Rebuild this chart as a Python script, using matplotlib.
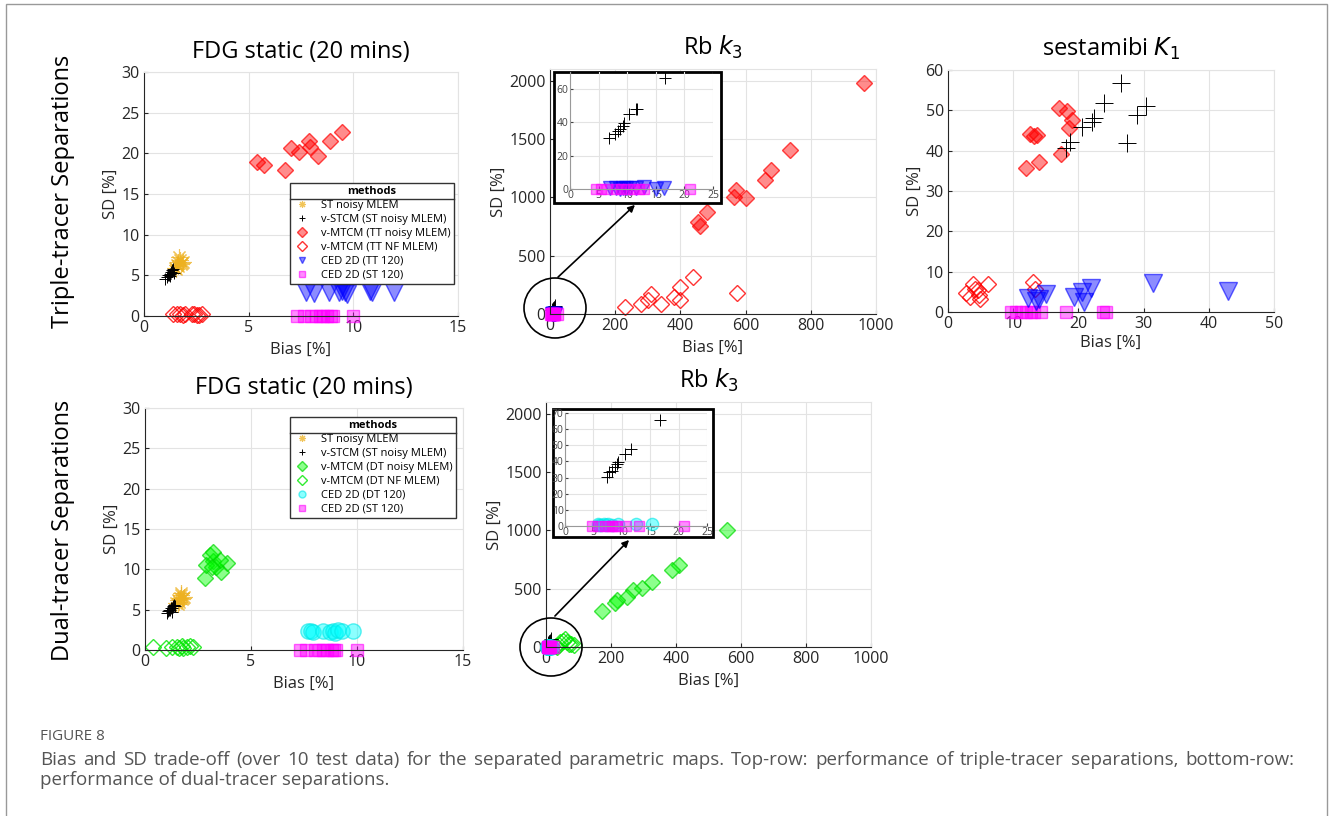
import numpy as np
import matplotlib
matplotlib.use('Agg')
import matplotlib.pyplot as plt
from matplotlib.lines import Line2D
from matplotlib.patches import Rectangle, Ellipse, FancyArrowPatch

plt.rcParams['font.family'] = ['Open Sans', 'DejaVu Sans']

# ---- FDG static, triple-tracer ----
fdg_tt_st_x = [1.48, 1.58, 1.64, 1.72, 1.80, 1.62, 1.55, 1.85, 1.68, 1.76]
fdg_tt_st_y = [5.9, 6.3, 6.6, 6.9, 6.5, 6.1, 5.8, 6.7, 7.2, 6.4]
fdg_tt_vstcm_x = [1.00, 1.10, 1.18, 1.25, 1.30, 1.35, 1.40, 1.22, 1.15, 1.45]
fdg_tt_vstcm_y = [4.5, 4.8, 5.0, 5.2, 5.4, 5.6, 5.8, 4.9, 5.1, 5.3]
fdg_tt_noisy_x = [5.40, 5.75, 6.75, 7.00, 7.40, 7.90, 7.95, 8.30, 8.90, 9.45]
fdg_tt_noisy_y = [18.9, 18.6, 17.9, 20.6, 20.2, 21.5, 20.8, 19.7, 21.5, 22.6]
fdg_tt_nf_x = [1.40, 1.72, 1.88, 2.40, 2.55, 2.75, 1.95, 2.65, 1.60, 2.30]
fdg_tt_nf_y = [0.2, 0.3, 0.1, 0.2, 0.15, 0.25, 0.3, 0.1, 0.2, 0.3]
fdg_tt_ced_x = [7.75, 8.10, 8.85, 9.30, 9.45, 9.60, 9.70, 10.80, 10.90, 11.95]
fdg_tt_ced_y = [3.0, 2.8, 2.9, 3.0, 3.1, 2.9, 2.7, 3.1, 3.0, 2.9]
fdg_tt_cedst_x = [7.30, 7.65, 8.00, 8.20, 8.40, 8.55, 8.75, 8.95, 9.05, 10.00]
fdg_tt_cedst_y = [0, 0, 0, 0, 0, 0, 0, 0, 0, 0]

# ---- Rb k3, triple-tracer ----
rb_tt_vstcm_x = [6.9, 7.9, 8.4, 8.7, 9.2, 9.4, 10.3, 11.5, 11.8, 16.6]
rb_tt_vstcm_y = [30.6, 33.2, 34.6, 36.0, 37.6, 39.6, 44.6, 47.6, 48.0, 66.2]
rb_tt_noisy_x = [963, 737, 677, 660, 600, 570, 565, 482, 455, 460]
rb_tt_noisy_y = [1977, 1402, 1231, 1145, 990, 1060, 1000, 870, 790, 750]
rb_tt_nf_x = [230, 280, 300, 310, 340, 380, 400, 400, 440, 575]
rb_tt_nf_y = [60, 90, 120, 170, 90, 150, 230, 120, 320, 180]
rb_tt_ced_x = [7.0, 8.0, 8.7, 9.3, 9.8, 10.5, 11.5, 13.0, 15.0, 16.5]
rb_tt_ced_y = [0.5, 0.3, 0.2, 0.4, 0.3, 0.5, 0.4, 1.0, 0.2, 0.3]
rb_tt_cedst_x = [4.5, 5.5, 6.5, 8.0, 9.0, 10.0, 11.0, 12.0, 13.0, 21.0]
rb_tt_cedst_y = [0, 0, 0, 0, 0, 0, 0, 0, 0, 0]

# ---- sestamibi K1, triple-tracer ----
mibi_vstcm_x = [26.6, 24.0, 22.4, 22.1, 20.6, 18.7, 18.1, 27.5, 30.3, 29.0]
mibi_vstcm_y = [56.9, 51.9, 48.0, 47.2, 45.9, 42.2, 40.6, 42.0, 51.1, 48.9]
mibi_noisy_x = [17.0, 18.3, 19.0, 18.5, 12.6, 13.2, 13.6, 11.9, 14.0, 17.3]
mibi_noisy_y = [50.7, 49.8, 47.5, 45.5, 44.2, 43.6, 44.0, 35.6, 37.3, 39.2]
mibi_nf_x = [2.8, 3.3, 3.8, 4.1, 4.6, 4.8, 4.9, 6.1, 13.0, 13.4]
mibi_nf_y = [4.6, 3.7, 7.0, 5.8, 5.4, 4.1, 3.3, 7.0, 7.5, 5.8]
mibi_ced_x = [12.3, 13.5, 14.0, 15.0, 19.3, 20.5, 20.8, 22.0, 31.4, 43.0]
mibi_ced_y = [3.5, 2.8, 3.3, 4.5, 3.8, 5.0, 2.5, 6.0, 7.2, 5.3]
mibi_cedst_x = [9.7, 10.5, 11.2, 12.0, 12.8, 13.2, 14.3, 18.1, 23.7, 24.3]
mibi_cedst_y = [0, 0, 0, 0, 0, 0, 0, 0, 0, 0]

# ---- FDG static, dual-tracer ----
fdg_dt_st_x = [1.48, 1.58, 1.64, 1.72, 1.80, 1.62, 1.55, 1.85, 1.68, 1.76]
fdg_dt_st_y = [5.8, 6.2, 6.5, 6.8, 6.4, 6.0, 5.7, 6.6, 7.1, 6.3]
fdg_dt_vstcm_x = [1.02, 1.10, 1.18, 1.26, 1.30, 1.35, 1.15, 1.22, 1.40, 1.28]
fdg_dt_vstcm_y = [4.55, 4.8, 5.0, 5.17, 5.4, 5.6, 4.9, 5.2, 5.5, 4.7]
fdg_dt_noisy_x = [2.83, 3.06, 3.20, 3.35, 3.85, 3.60, 2.90, 3.53, 3.20, 3.14]
fdg_dt_noisy_y = [8.9, 11.8, 11.0, 10.3, 10.8, 9.7, 10.5, 11.2, 12.2, 10.3]
fdg_dt_nf_x = [0.39, 0.99, 1.26, 1.49, 1.73, 1.80, 1.96, 2.10, 2.28, 1.60]
fdg_dt_nf_y = [0.4, 0.3, 0.4, 0.4, 0.5, 0.3, 0.4, 0.5, 0.4, 0.2]
fdg_dt_ced_x = [7.70, 7.85, 7.93, 8.40, 8.72, 8.87, 8.95, 9.10, 9.27, 9.82]
fdg_dt_ced_y = [2.3, 2.4, 2.2, 2.4, 2.2, 2.3, 2.1, 2.5, 2.4, 2.3]
fdg_dt_cedst_x = [7.30, 7.60, 8.00, 8.20, 8.40, 8.60, 8.80, 8.90, 9.00, 10.00]
fdg_dt_cedst_y = [0, 0, 0, 0, 0, 0, 0, 0, 0, 0]

# ---- Rb k3, dual-tracer ----
rb_dt_vstcm_x = [7.4, 7.8, 8.2, 8.8, 9.1, 9.4, 10.6, 11.6, 16.8]
rb_dt_vstcm_y = [30.5, 33.7, 34.1, 36.8, 38.2, 39.9, 44.5, 47.6, 65.8]
rb_dt_noisy_x = [556, 408, 387, 326, 296, 269, 249, 218, 213, 172]
rb_dt_noisy_y = [1004, 703, 660, 560, 502, 488, 430, 402, 373, 310]
rb_dt_nf_x = [34, 44, 59, 70, 85, 40, 52, 65, 30, 78]
rb_dt_nf_y = [0, 43, 72, 29, 14, 20, 50, 40, 10, 25]
rb_dt_ced_x = [5.8, 6.0, 6.3, 6.8, 7.2, 7.6, 8.3, 9.3, 12.5, 15.3]
rb_dt_ced_y = [1.0, 0.9, 0.8, 1.0, 0.9, 1.0, 0.8, 1.0, 1.0, 1.2]
rb_dt_cedst_x = [4.8, 5.8, 7.0, 7.7, 8.3, 8.8, 9.2, 10.8, 13.0, 21.0]
rb_dt_cedst_y = [0, 0, 0, 0, 0, 0, 0, 0, 0, 0]

labels_tt = ['ST noisy MLEM', 'v-STCM (ST noisy MLEM)', 'v-MTCM (TT noisy MLEM)',
             'v-MTCM (TT NF MLEM)', 'CED 2D (TT 120)', 'CED 2D (ST 120)']
labels_dt = ['ST noisy MLEM', 'v-STCM (ST noisy MLEM)', 'v-MTCM (DT noisy MLEM)',
             'v-MTCM (DT NF MLEM)', 'CED 2D (DT 120)', 'CED 2D (ST 120)']

caption_1 = ('Bias and SD trade-off (over 10 test data) for the separated parametric maps. '
             'Top-row: performance of triple-tracer separations, bottom-row:')
caption_2 = 'performance of dual-tracer separations.'

# marker styles per method
STYLE = {
    'st':     dict(marker=(8, 2, 0), color='#EDB120', mew=0.8, alpha=0.75),
    'vstcm':  dict(marker='+', color='black', mew=0.7),
    'tt_noisy': dict(marker='D', mfc=(1, 0, 0, 0.45), mec=(1, 0, 0, 0.7)),
    'tt_nf':  dict(marker='D', mfc='none', mec=(1, 0, 0, 0.8)),
    'tt_ced': dict(marker='v', mfc=(0, 0, 1, 0.45), mec=(0, 0, 1, 0.6)),
    'dt_noisy': dict(marker='D', mfc=(0, 1, 0, 0.45), mec=(0, 0.85, 0, 0.7)),
    'dt_nf':  dict(marker='D', mfc='none', mec=(0, 0.9, 0, 0.8)),
    'dt_ced': dict(marker='o', mfc=(0, 1, 1, 0.45), mec=(0, 0.9, 0.9, 0.6)),
    'cedst':  dict(marker='s', mfc=(1, 0, 1, 0.45), mec=(1, 0, 1, 0.6)),
}
SIZE = {'st': 10, 'vstcm': 10, 'tt_noisy': 8.5, 'tt_nf': 8.5, 'tt_ced': 13,
        'dt_noisy': 8.5, 'dt_nf': 8.5, 'dt_ced': 11, 'cedst': 9}

TICK_FS = 11.5
LABEL_FS = 12
TITLE_FS = 17

W, H = 1332, 816
fig = plt.figure(figsize=(W / 100, H / 100), dpi=100)


def box(l, t, r, b):
    return [l / W, 1 - b / H, (r - l) / W, (b - t) / H]


def pt(x, y):
    return (x / W, 1 - y / H)


def draw(ax, key, x, y, scale=1.0):
    ax.plot(x, y, linestyle='none', ms=SIZE[key] * scale, clip_on=False,
            **STYLE[key])


def style_axes(ax, xlim, ylim, xticks, yticks, fs=TICK_FS):
    ax.set_xlim(xlim)
    ax.set_ylim(ylim)
    ax.set_xticks(xticks)
    ax.set_yticks(yticks)
    ax.grid(True, color='#e3e3e3', lw=0.8)
    ax.set_axisbelow(True)
    for s in ['top', 'right']:
        ax.spines[s].set_color('#e3e3e3')
    for s in ['left', 'bottom']:
        ax.spines[s].set_color('#262626')
        ax.spines[s].set_linewidth(0.8)
    ax.tick_params(direction='in', length=3, colors='#262626', labelsize=fs,
                   top=False, right=False, pad=3)


def labels(ax, title):
    ax.set_title(title, fontsize=TITLE_FS, pad=10)
    ax.set_xlabel('Bias [%]', fontsize=LABEL_FS, color='#262626', labelpad=4)
    ax.set_ylabel('SD [%]', fontsize=LABEL_FS, color='#262626', labelpad=2)


def add_legend(ax, keys, labels, anchor):
    handles = [Line2D([], [], linestyle='none', ms=5, **STYLE[k]) for k in keys]
    leg = ax.legend(handles, labels, title='methods', loc='upper right',
                    bbox_to_anchor=anchor, fontsize=8, fancybox=False,
                    edgecolor='#333333', framealpha=1, borderpad=0.3,
                    labelspacing=0.26, handletextpad=0.9, handlelength=1.6,
                    borderaxespad=0, title_fontproperties={'weight': 'bold', 'size': 8})
    leg.get_frame().set_linewidth(1.0)
    return leg


ax1 = fig.add_axes(box(144, 72, 458, 316))
ax2 = fig.add_axes(box(550, 69, 876, 314))
ax3 = fig.add_axes(box(948, 70, 1274, 312))
ax4 = fig.add_axes(box(145, 408, 463, 650))
ax5 = fig.add_axes(box(546, 402, 871, 647))

# top row: triple-tracer
style_axes(ax1, (0, 15), (0, 30), [0, 5, 10, 15], range(0, 31, 5))
draw(ax1, 'tt_nf', fdg_tt_nf_x, fdg_tt_nf_y, 0.9)
draw(ax1, 'cedst', fdg_tt_cedst_x, fdg_tt_cedst_y)
draw(ax1, 'tt_ced', fdg_tt_ced_x, fdg_tt_ced_y)
draw(ax1, 'tt_noisy', fdg_tt_noisy_x, fdg_tt_noisy_y, 0.95)
draw(ax1, 'st', fdg_tt_st_x, fdg_tt_st_y, 1.2)
draw(ax1, 'vstcm', fdg_tt_vstcm_x, fdg_tt_vstcm_y, 0.9)
labels(ax1, 'FDG static (20 mins)')
leg1 = add_legend(ax1, ['st', 'vstcm', 'tt_noisy', 'tt_nf', 'tt_ced', 'cedst'],
                  labels_tt, (0.987, 0.545))

style_axes(ax2, (0, 1000), (0, 2100), range(0, 1001, 200), range(0, 2001, 500))
draw(ax2, 'tt_nf', rb_tt_nf_x, rb_tt_nf_y)
draw(ax2, 'tt_noisy', rb_tt_noisy_x, rb_tt_noisy_y)
draw(ax2, 'vstcm', rb_tt_vstcm_x, rb_tt_vstcm_y)
draw(ax2, 'tt_ced', rb_tt_ced_x, rb_tt_ced_y, 0.8)
draw(ax2, 'cedst', rb_tt_cedst_x, rb_tt_cedst_y)
labels(ax2, 'Rb $k_3$')

style_axes(ax3, (0, 50), (0, 60), range(0, 51, 10), range(0, 61, 10))
draw(ax3, 'tt_nf', mibi_nf_x, mibi_nf_y)
draw(ax3, 'cedst', mibi_cedst_x, mibi_cedst_y)
draw(ax3, 'tt_ced', mibi_ced_x, mibi_ced_y)
draw(ax3, 'tt_noisy', mibi_noisy_x, mibi_noisy_y)
draw(ax3, 'vstcm', mibi_vstcm_x, mibi_vstcm_y, 1.3)
labels(ax3, 'sestamibi $K_1$')
ax3.xaxis.labelpad = 2

# bottom row: dual-tracer
style_axes(ax4, (0, 15), (0, 30), [0, 5, 10, 15], range(0, 31, 5))
draw(ax4, 'dt_nf', fdg_dt_nf_x, fdg_dt_nf_y, 0.95)
draw(ax4, 'cedst', fdg_dt_cedst_x, fdg_dt_cedst_y)
draw(ax4, 'dt_ced', fdg_dt_ced_x, fdg_dt_ced_y)
draw(ax4, 'dt_noisy', fdg_dt_noisy_x, fdg_dt_noisy_y, 0.95)
draw(ax4, 'st', fdg_dt_st_x, fdg_dt_st_y, 1.2)
draw(ax4, 'vstcm', fdg_dt_vstcm_x, fdg_dt_vstcm_y, 0.9)
labels(ax4, 'FDG static (20 mins)')
leg4 = add_legend(ax4, ['st', 'vstcm', 'dt_noisy', 'dt_nf', 'dt_ced', 'cedst'],
                  labels_dt, (0.978, 0.963))

style_axes(ax5, (0, 1000), (0, 2100), range(0, 1001, 200), range(0, 2001, 500))
draw(ax5, 'dt_nf', rb_dt_nf_x, rb_dt_nf_y)
draw(ax5, 'dt_noisy', rb_dt_noisy_x, rb_dt_noisy_y)
draw(ax5, 'vstcm', rb_dt_vstcm_x, rb_dt_vstcm_y)
draw(ax5, 'dt_ced', rb_dt_ced_x, rb_dt_ced_y)
draw(ax5, 'cedst', rb_dt_cedst_x, rb_dt_cedst_y)
labels(ax5, 'Rb $k_3$')

# zoomed insets of the Rb panels near the origin
fig.add_artist(Rectangle(pt(554, 203), 167 / W, 131 / H, transform=fig.transFigure,
                         fc='white', ec='black', lw=2, zorder=1))
fig.add_artist(Rectangle(pt(553, 537), 160 / W, 128 / H, transform=fig.transFigure,
                         fc='white', ec='black', lw=2, zorder=1))

in2 = fig.add_axes(box(570, 72, 713, 189), zorder=2)
in5 = fig.add_axes(box(565, 413, 707, 526), zorder=2)
for ia, yt in [(in2, range(0, 61, 20)), (in5, range(0, 71, 10))]:
    style_axes(ia, (0, 25), (0, 70), range(0, 26, 5), yt, fs=7.5)
    ia.patch.set_alpha(0)
    ia.spines['top'].set_visible(False)
    ia.spines['right'].set_visible(False)
    for s in ['left', 'bottom']:
        ia.spines[s].set_color('#999999')
    ia.tick_params(colors='#444444', pad=1, length=2)

draw(in2, 'vstcm', rb_tt_vstcm_x, rb_tt_vstcm_y, 0.9)
draw(in2, 'tt_ced', rb_tt_ced_x, rb_tt_ced_y, 0.75)
draw(in2, 'cedst', rb_tt_cedst_x, rb_tt_cedst_y, 0.85)
draw(in5, 'vstcm', rb_dt_vstcm_x, rb_dt_vstcm_y, 0.9)
draw(in5, 'dt_ced', rb_dt_ced_x, rb_dt_ced_y, 0.8)
draw(in5, 'cedst', rb_dt_cedst_x, rb_dt_cedst_y, 0.85)

# circles round the origin and arrows to the insets
for (cx, cy, rx, ry), (a, b) in [((555, 308, 31, 30), ((556, 279), (637, 203))),
                                 ((551, 647, 31, 29), ((553, 618), (631, 538)))]:
    fig.add_artist(Ellipse(pt(cx, cy), 2 * rx / W, 2 * ry / H, transform=fig.transFigure,
                           fill=False, ec='black', lw=1.2, zorder=3))
    fig.add_artist(FancyArrowPatch(pt(*a), pt(*b), transform=fig.transFigure,
                                   arrowstyle='-|>', mutation_scale=10, lw=1.2,
                                   color='black', zorder=3))

# row labels
fig.text(*pt(63, 191), 'Triple-tracer Separations', rotation=90, ha='center',
         va='center', fontsize=17)
fig.text(*pt(63, 530), 'Dual-tracer Separations', rotation=90, ha='center',
         va='center', fontsize=17)

# caption, first line justified to the full width
fig.text(*pt(40, 737), 'FIGURE 8', fontsize=11, color='#555555', va='center')
renderer = fig.canvas.get_renderer()
words = caption_1.split(' ')
word_txt = [fig.text(0, 0, w, fontsize=13.5, color='#555555', va='center') for w in words]
widths = [t.get_window_extent(renderer).width for t in word_txt]
gap = (1294 - 40 - sum(widths)) / (len(words) - 1)
x = 40
for t, w in zip(word_txt, widths):
    t.set_position(pt(x, 760))
    x += w + gap
fig.text(*pt(40, 780), caption_2, fontsize=13.5, color='#555555', va='center')

# outer frame
fig.add_artist(Rectangle(pt(6, 840), 1321 / W, 836 / H, transform=fig.transFigure,
                         fill=False, ec='#999999', lw=1, zorder=5))

# line under the legend titles, halfway between title and first entry
fig.canvas.draw()
inv = fig.transFigure.inverted()
for leg in [leg1, leg4]:
    fb = leg.get_frame().get_window_extent()
    tb = leg.get_title().get_window_extent()
    eb = leg.get_texts()[0].get_window_extent()
    y = 0.5 * (tb.y0 + eb.y1)
    (x0, yy), (x1, _) = inv.transform([(fb.x0, y), (fb.x1, y)])
    fig.add_artist(Line2D([x0, x1], [yy, yy], transform=fig.transFigure,
                          color='#333333', lw=1.0, zorder=6))

fig.savefig('out.png', dpi=100)
